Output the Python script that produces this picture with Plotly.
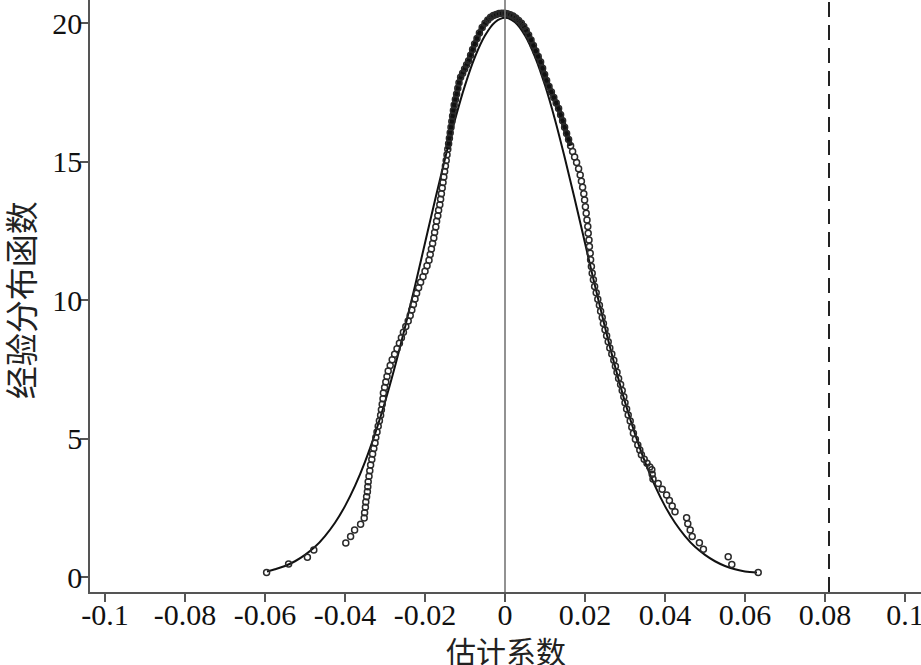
import plotly.graph_objects as go

# Kernel density evaluated at the placebo coefficients (circles)
kde_x = [-0.0596, -0.0541, -0.0494, -0.0478,
         -0.0398, -0.0386, -0.0376, -0.0361, -0.0352, -0.0351, -0.0349, -0.0348, -0.0346, -0.0344, -0.0343, -0.0342,
         -0.0340, -0.0338, -0.0336, -0.0333, -0.0331, -0.0328, -0.0325, -0.0323, -0.0320, -0.0317,
         -0.0314, -0.0311, -0.0309, -0.0307, -0.0305, -0.0304, -0.0301, -0.0298, -0.0295, -0.0292,
         -0.0287, -0.0282, -0.0276, -0.0270, -0.0264, -0.0259, -0.0254, -0.0248, -0.0242, -0.0237,
         -0.0233, -0.0229, -0.0225, -0.0221, -0.0216, -0.0211, -0.0205, -0.0200, -0.0195, -0.0190,
         -0.0187, -0.0184, -0.0181, -0.0178, -0.0176, -0.0173, -0.0171, -0.0168, -0.0166, -0.0163,
         -0.0161, -0.0159, -0.0157, -0.0155, -0.0153, -0.0151, -0.0149, -0.0147, -0.0145, -0.0143,
         -0.0141, -0.0139, -0.0137, -0.0135, -0.0133, -0.0131, -0.0129, -0.0127, -0.0124, -0.0121,
         -0.0118, -0.0115, -0.0111, -0.0106, -0.0101, -0.0096, -0.0091, -0.0086, -0.0081, -0.0076,
         -0.0070, -0.0064, -0.0057, -0.0050, -0.0043, -0.0036, -0.0029, -0.0022, -0.0015, -0.0008,
         -0.0001, 0.0006, 0.0013, 0.0020, 0.0027, 0.0034, 0.0041, 0.0047, 0.0053, 0.0059,
         0.0065, 0.0071, 0.0077, 0.0083, 0.0089, 0.0094, 0.0099, 0.0104, 0.0110, 0.0116,
         0.0122, 0.0128, 0.0134, 0.0139, 0.0144, 0.0149, 0.0154, 0.0159, 0.0164, 0.0169,
         0.0174, 0.0179, 0.0184, 0.0188, 0.0191, 0.0194, 0.0197, 0.0199, 0.0201, 0.0203,
         0.0205, 0.0207, 0.0208, 0.0210, 0.0211, 0.0213, 0.0214, 0.0216, 0.0218, 0.0221,
         0.0224, 0.0228, 0.0232, 0.0236, 0.0239, 0.0243, 0.0246, 0.0250, 0.0254, 0.0258,
         0.0262, 0.0267, 0.0272, 0.0276, 0.0280, 0.0284, 0.0289, 0.0293, 0.0297, 0.0300,
         0.0304, 0.0308, 0.0313, 0.0317, 0.0321, 0.0326, 0.0332, 0.0337, 0.0341, 0.0348,
         0.0355, 0.0362, 0.0367, 0.0368, 0.0370, 0.0383, 0.0393, 0.0404, 0.0411, 0.0418,
         0.0425, 0.0454, 0.0457, 0.0463, 0.0468, 0.0486, 0.0496, 0.0558, 0.0567, 0.0633]
kde_y = [0.17, 0.48, 0.72, 0.99,
         1.24, 1.47, 1.71, 1.92, 2.14, 2.33, 2.53, 2.72, 2.91, 3.09, 3.27, 3.45,
         3.65, 3.85, 4.05, 4.25, 4.45, 4.65, 4.85, 5.05, 5.25, 5.45,
         5.65, 5.85, 6.05, 6.25, 6.45, 6.65, 6.85, 7.05, 7.25, 7.45,
         7.65, 7.85, 8.05, 8.25, 8.45, 8.65, 8.85, 9.05, 9.25, 9.45,
         9.65, 9.85, 10.05, 10.25, 10.45, 10.65, 10.85, 11.05, 11.25, 11.45,
         11.65, 11.85, 12.05, 12.25, 12.45, 12.65, 12.85, 13.05, 13.25, 13.45,
         13.65, 13.85, 14.05, 14.25, 14.45, 14.65, 14.85, 15.05, 15.25, 15.45,
         15.65, 15.85, 16.05, 16.25, 16.45, 16.65, 16.85, 17.05, 17.25, 17.45,
         17.65, 17.85, 18.05, 18.2, 18.35, 18.5, 18.65, 18.85, 19.05, 19.25,
         19.45, 19.65, 19.85, 20.0, 20.12, 20.22, 20.28, 20.32, 20.35, 20.36,
         20.36, 20.34, 20.31, 20.26, 20.19, 20.1, 20.0, 19.88, 19.74, 19.58,
         19.4, 19.2, 19.0, 18.8, 18.6, 18.38, 18.15, 17.93, 17.72, 17.52,
         17.32, 17.12, 16.92, 16.7, 16.48, 16.25, 16.02, 15.8, 15.58, 15.37,
         15.17, 14.97, 14.75, 14.52, 14.3, 14.08, 13.85, 13.62, 13.38, 13.14,
         12.9, 12.66, 12.42, 12.18, 11.94, 11.7, 11.46, 11.22, 10.98, 10.74,
         10.5, 10.27, 10.04, 9.82, 9.6, 9.38, 9.16, 8.94, 8.72, 8.5,
         8.28, 8.06, 7.84, 7.62, 7.4, 7.18, 6.96, 6.74, 6.52, 6.3,
         6.08, 5.86, 5.64, 5.42, 5.2, 4.98, 4.78, 4.6, 4.42, 4.26,
         4.12, 3.98, 3.88, 3.72, 3.55, 3.39, 3.18, 2.97, 2.77, 2.57,
         2.37, 2.15, 1.93, 1.71, 1.47, 1.25, 1.01, 0.74, 0.46, 0.17]

# Normal density curve (solid line)
norm_x = [-0.0595, -0.0575, -0.055, -0.0525, -0.05, -0.0475, -0.045, -0.0425, -0.04, -0.0375,
          -0.035, -0.0325, -0.03, -0.0275, -0.025, -0.0225, -0.02, -0.0175, -0.015, -0.0125,
          -0.01, -0.0075, -0.005, -0.0025, 0.0, 0.0025, 0.005, 0.0075, 0.01, 0.0125,
          0.015, 0.0175, 0.02, 0.0225, 0.025, 0.0275, 0.03, 0.0325, 0.035, 0.0375,
          0.04, 0.0425, 0.045, 0.0475, 0.05, 0.0525, 0.055, 0.0575, 0.06, 0.063]
norm_y = [0.21, 0.29, 0.41, 0.58, 0.81, 1.10, 1.49, 1.97, 2.57, 3.30,
          4.17, 5.18, 6.33, 7.62, 9.03, 10.52, 12.07, 13.61, 15.11, 16.52,
          17.76, 18.79, 19.56, 20.04, 20.2, 20.04, 19.56, 18.79, 17.76, 16.52,
          15.11, 13.61, 12.07, 10.52, 9.03, 7.62, 6.33, 5.18, 4.17, 3.30,
          2.57, 1.97, 1.49, 1.10, 0.81, 0.58, 0.41, 0.29, 0.21, 0.17]

x_ticks = [-0.1, -0.08, -0.06, -0.04, -0.02, 0, 0.02, 0.04, 0.06, 0.08, 0.1]
x_tick_text = ["-0.1", "-0.08", "-0.06", "-0.04", "-0.02", "0", "0.02", "0.04", "0.06", "0.08", "0.1"]
y_ticks = [0, 5, 10, 15, 20]
true_coef = 0.081
x_title = "估计系数"
y_title = "经验分布函数"

serif = "Liberation Serif, Times New Roman, serif"
cjk = "Noto Sans CJK SC"

# dense central band where the circles overlap into a solid stroke
band = [(x, y) for x, y in zip(kde_x, kde_y) if y >= 15.4]

fig = go.Figure()
fig.add_trace(go.Scatter(
    x=norm_x, y=norm_y, mode="lines",
    line=dict(color="#111111", width=2, shape="spline", smoothing=1.0),
    showlegend=False, hoverinfo="skip"))
fig.add_trace(go.Scatter(
    x=[p[0] for p in band], y=[p[1] for p in band], mode="lines",
    line=dict(color="#111111", width=5, shape="spline"),
    showlegend=False, hoverinfo="skip"))
fig.add_trace(go.Scatter(
    x=kde_x, y=kde_y, mode="markers",
    marker=dict(symbol="circle-open", size=6, color="#2a2a2a", line=dict(width=1.5, color="#2a2a2a")),
    showlegend=False))

fig.add_shape(type="line", xref="x", yref="paper", x0=0, x1=0, y0=0, y1=1,
              line=dict(color="#777777", width=1.6))
fig.add_shape(type="line", xref="x", yref="paper", x0=true_coef, x1=true_coef, y0=0, y1=1,
              line=dict(color="#222222", width=2, dash="15px,8px"))

axis_common = dict(showline=True, linecolor="#555555", linewidth=1.6, ticks="outside", ticklen=8,
                   tickcolor="#555555", tickwidth=1.6, showgrid=False, zeroline=False,
                   automargin=False, ticklabeloverflow="allow",
                   tickfont=dict(family=serif, size=30, color="#111111"))

fig.update_layout(
    width=921, height=665,
    margin=dict(l=90, r=0, t=0, b=73),
    paper_bgcolor="white", plot_bgcolor="white",
    font=dict(family=serif, size=30, color="#111111"),
    xaxis=dict(range=[-0.10375, 0.104], tickmode="array", tickvals=x_ticks, ticktext=x_tick_text,
               ticklabelstandoff=-13, **axis_common),
    yaxis=dict(range=[-0.53, 20.84], tickmode="array", tickvals=y_ticks,
               ticklabelstandoff=-8, **axis_common),
    annotations=[
        dict(text=x_title, xref="paper", yref="paper", x=0.5, y=-0.098,
             xanchor="center", yanchor="middle", showarrow=False,
             font=dict(family=cjk, size=30, color="#222222")),
        dict(text=y_title, xref="paper", yref="paper", x=-0.084, y=0.493,
             xanchor="center", yanchor="middle", showarrow=False, textangle=-90,
             font=dict(family=cjk, size=33, color="#222222")),
    ],
)

fig.write_html("out.html", config={"displayModeBar": False},
               post_script="document.body.style.margin='0';document.body.style.overflow='hidden';")
